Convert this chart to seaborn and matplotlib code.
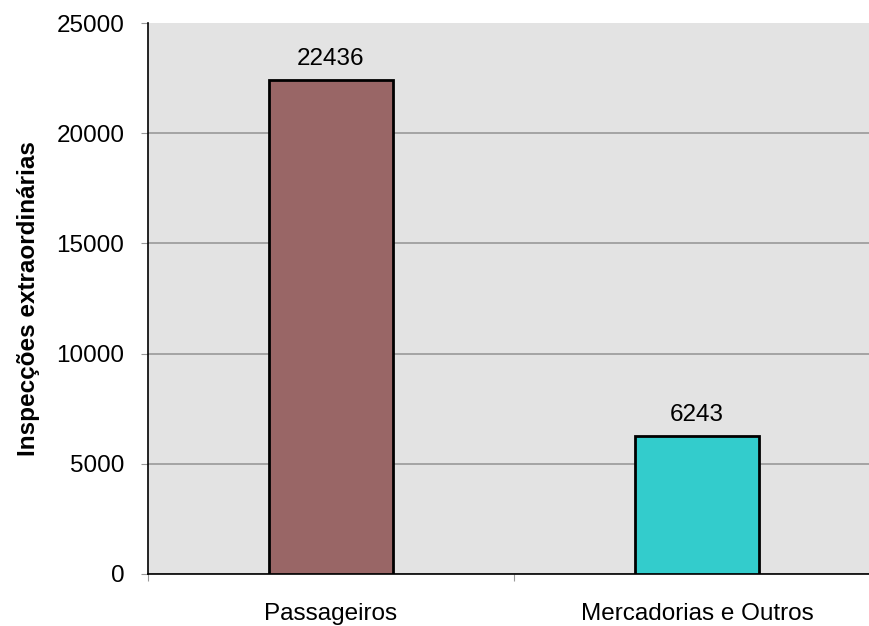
import matplotlib
matplotlib.use("Agg")
import matplotlib.pyplot as plt
import seaborn as sns
import pandas as pd

# Data
categories = ["Passageiros", "Mercadorias e Outros"]
values = [22436, 6243]
colors = ["#996666", "#33CCCC"]

df = pd.DataFrame({"categoria": categories, "valor": values})

sns.set_style("white")
plt.rcParams["font.family"] = ["Liberation Sans", "DejaVu Sans"]
plt.rcParams["text.color"] = "black"

FS = 17.5

fig = plt.figure(figsize=(8.7, 6.26), dpi=100)
ax = fig.add_axes([148 / 870, 52 / 626, 732 / 870, 551 / 626])
ax.set_facecolor("#E3E3E3")

sns.barplot(data=df, x="categoria", y="valor", hue="categoria",
            palette=colors, saturation=1, width=0.34, edgecolor="black",
            linewidth=2, legend=False, ax=ax, zorder=3)

ax.set_ylim(0, 25000)
ax.set_xlim(-0.5, 1.5)
ax.set_yticks(range(0, 25001, 5000))
ax.yaxis.grid(True, color="#999999", linewidth=1.2, zorder=0)
ax.set_axisbelow(True)
ax.get_ygridlines()[-1].set_visible(False)

# value labels above the bars
for i, v in enumerate(values):
    ax.text(i, v + 450, str(v), ha="center", va="bottom", fontsize=FS, color="black")

# category ticks at boundaries, labels at centres
ax.set_xticks([-0.5, 0.5, 1.5])
ax.set_xticklabels([])
ax.set_xticks([0, 1], minor=True)
ax.set_xticklabels(categories, minor=True, fontsize=FS)
ax.tick_params(axis="x", which="major", length=5, color="#999999", direction="out")
ax.tick_params(axis="x", which="minor", length=0, pad=21, labelcolor="black")
ax.tick_params(axis="y", length=5, color="#999999", direction="out",
               labelsize=FS, pad=12, labelcolor="black")
ax.tick_params(bottom=True, left=True)

for s in ["top", "right"]:
    ax.spines[s].set_visible(False)
ax.spines["left"].set_color("black")
ax.spines["bottom"].set_color("black")
ax.spines["left"].set_linewidth(1.2)
ax.spines["bottom"].set_linewidth(1.2)

ax.set_xlabel("")
ax.set_ylabel("Inspecções extraordinárias", fontsize=FS, fontweight="bold", color="black")
ax.yaxis.set_label_coords(-0.147, 0.5)

fig.savefig("out.png", dpi=100)
